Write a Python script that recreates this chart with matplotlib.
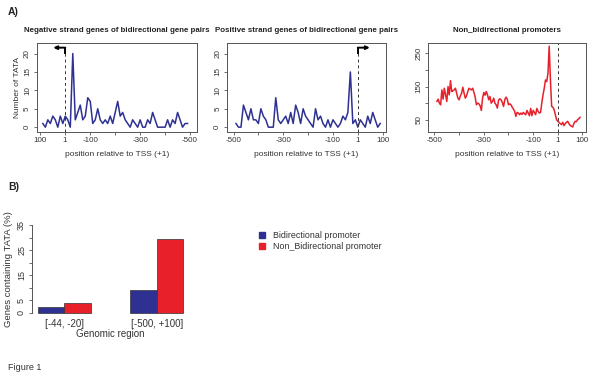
"""Figure 1: TATA box positions around the TSS and share of genes with TATA."""
import matplotlib
matplotlib.use("Agg")
import matplotlib.pyplot as plt
import numpy as np
from matplotlib.lines import Line2D

plt.rcParams["font.family"] = ["Liberation Sans", "DejaVu Sans"]

BLUE = "#2E3192"
RED = "#E8202A"
TXT = "#333333"
AX = "#555555"

# ---- panel A data: TATA counts per 10 bp bin -------------------------------
neg_pos = np.arange(90, -500, -10)
neg_counts = [1, 0, 2, 1, 3, 2, 0, 3, 1, 3,
              2, 0, 20, 2, 4, 6, 2, 3, 8, 7,
              1, 2, 5, 2, 1, 2, 1, 3, 1, 4,
              7, 3, 4, 2, 1, 0, 2, 1, 0, 2,
              0, 0, 2, 1, 4, 2, 0, 0, 0, 0,
              2, 0, 2, 1, 4, 2, 0, 1, 1]

pos_pos = np.arange(-490, 100, 10)
pos_counts = [1, 0, 0, 6, 4, 2, 5, 2, 2, 1,
              5, 3, 2, 0, 0, 0, 8, 2, 1, 2,
              3, 1, 4, 1, 6, 4, 1, 5, 3, 2,
              1, 0, 5, 2, 3, 1, 0, 2, 0, 2,
              1, 0, 1, 3, 2, 4, 15, 1, 2, 0,
              2, 1, 0, 3, 1, 4, 2, 0, 1]

# non-bidirectional promoters, 5 bp bins
nonbi_pos = np.arange(-490, 95, 5)
nonbi_counts = [105, 112, 100, 95, 140, 112, 145, 125, 105, 150,
                125, 168, 135, 138, 140, 145, 130, 115, 110, 122,
                130, 148, 130, 115, 122, 135, 145, 142, 140, 145,
                132, 118, 95, 100, 98, 92, 78, 115, 132, 124,
                135, 125, 110, 120, 100, 105, 115, 100, 95, 85,
                110, 113, 110, 102, 90, 110, 118, 112, 95, 98,
                95, 88, 82, 75, 60, 72, 70, 65, 70, 66,
                72, 68, 65, 78, 70, 62, 84, 62, 78, 72,
                65, 84, 75, 70, 72, 100, 125, 145, 170, 165,
                190, 272, 170, 90, 88, 80, 65, 50, 45, 42,
                38, 35, 42, 32, 38, 42, 45, 38, 33, 30,
                28, 38, 45, 44, 50, 53, 57]

# ---- panel B data ------------------------------------------------------------
regions = ["[-44, -20]", "[-500, +100]"]
bidir_pct = [2.4, 9.1]
nonbidir_pct = [3.7, 29.3]

fig = plt.figure(figsize=(6.0, 3.76), dpi=100)

axes_a = [fig.add_axes([0.061, 0.650, 0.267, 0.236]),
          fig.add_axes([0.378, 0.650, 0.266, 0.236]),
          fig.add_axes([0.713, 0.650, 0.264, 0.236])]
titles = ["Negative strand genes of bidirectional gene pairs",
          "Positive strand genes of bidirectional gene pairs",
          "Non_bidirectional promoters"]


def style(ax):
    for s in ax.spines.values():
        s.set_color(AX)
        s.set_linewidth(0.7)
    ax.tick_params(colors=AX, labelcolor=TXT, labelsize=5.8, length=2.5,
                   width=0.6, pad=1.5)
    for lab in ax.get_yticklabels():
        lab.set_rotation(90)
        lab.set_va("center")


ax1, ax2, ax3 = axes_a
ax1.plot(neg_pos, neg_counts, color=BLUE, lw=1.1)
ax1.set_xlim(115, -527)
ax1.set_xticks([100, 1, -100, -200, -300, -400, -500])
ax1.set_xticklabels(["100", "1", "-100", "", "-300", "", "-500"])

ax2.plot(pos_pos, pos_counts, color=BLUE, lw=1.1)
ax2.set_xlim(-527, 115)

ax3.plot(nonbi_pos, nonbi_counts, color=RED, lw=1.1)
ax3.set_xlim(-527, 115)
ax3.set_ylim(14, 282)
ax3.set_yticks([50, 100, 150, 200, 250])
ax3.set_yticklabels(["50", "", "150", "", "250"])
ax3.vlines(1, 14, 282, colors="#333333", linestyles=(0, (3, 3)), lw=0.7)

for ax in (ax2, ax3):
    ax.set_xticks([-500, -400, -300, -200, -100, 1, 100])
    ax.set_xticklabels(["-500", "", "-300", "", "-100", "1", "100"])

for ax in (ax1, ax2):
    ax.set_ylim(-1.2, 22.9)
    ax.set_yticks([0, 5, 10, 15, 20])
    ax.vlines(1, -1.2, 20.2, colors="#333333", linestyles=(0, (3, 3)), lw=0.7)
    ax.plot([1, 1], [20.0, 21.6], color="black", lw=1.4, solid_capstyle="butt")
    # bent TSS arrow pointing toward the gene body
    ax.annotate("", xy=(48, 21.6), xytext=(0, 21.6),
                arrowprops=dict(arrowstyle="-|>", color="black", lw=1.4,
                                mutation_scale=5, shrinkA=0, shrinkB=0))

for ax, t in zip(axes_a, titles):
    style(ax)
    ax.set_title(t, fontsize=5.7, fontweight="bold", color="#222222", pad=8)
    ax.set_xlabel("position relative to TSS (+1)", fontsize=6, color=TXT,
                  labelpad=5)
ax1.set_ylabel("Number of TATA", fontsize=6, color=TXT, labelpad=2)

# ---- panel B -----------------------------------------------------------------
axb = fig.add_axes([0.0528, 0.159, 0.2625, 0.252])
width = 1.0
group_x = np.arange(len(regions)) * 3.5
axb.bar(group_x - width / 2, bidir_pct, width=width, color=BLUE,
        edgecolor="#333333", lw=0.5)
axb.bar(group_x + width / 2, nonbidir_pct, width=width, color=RED,
        edgecolor="#333333", lw=0.5)
axb.set_xlim(group_x[0] - width - 0.22, group_x[-1] + width + 0.22)
axb.set_ylim(-1.4, 36.4)
axb.set_yticks(np.arange(0, 36, 5))
axb.set_yticklabels(["0", "5", "", "15", "", "25", "", "35"])
axb.set_xticks(group_x)
axb.set_xticklabels(regions)
for s in ("top", "right", "bottom"):
    axb.spines[s].set_visible(False)
axb.spines["left"].set_bounds(0, 35)
axb.spines["left"].set_color(AX)
axb.spines["left"].set_linewidth(0.7)
axb.tick_params(axis="y", colors=AX, labelcolor=TXT, labelsize=6.5,
                length=2.5, width=0.6, pad=1.5)
axb.tick_params(axis="x", length=0, labelcolor=TXT, labelsize=7, pad=2)
for lab in axb.get_yticklabels():
    lab.set_rotation(90)
    lab.set_va("center")
axb.set_xlabel("Genomic region", fontsize=7, color=TXT, labelpad=0)
axb.set_ylabel("Genes containing TATA (%)", fontsize=6.8, color=TXT,
               labelpad=3)

handles = [Line2D([], [], ls="none", marker="s", ms=4, color=BLUE),
           Line2D([], [], ls="none", marker="s", ms=4, color=RED)]
fig.legend(handles, ["Bidirectional promoter", "Non_Bidirectional promoter"],
           loc="upper left", bbox_to_anchor=(0.417, 0.406), frameon=False,
           fontsize=6.4, handlelength=0.8, handletextpad=0.9,
           labelspacing=0.2, labelcolor=TXT)

fig.text(0.013, 0.982, "A)", fontsize=7.5, fontweight="bold", va="top",
         color="#222222")
fig.text(0.013, 0.515, "B)", fontsize=7.5, fontweight="bold", va="top",
         color="#222222")
fig.text(0.013, 0.022, "Figure 1", fontsize=6.5, color=TXT, va="center")

fig.savefig("out.png", dpi=100)
